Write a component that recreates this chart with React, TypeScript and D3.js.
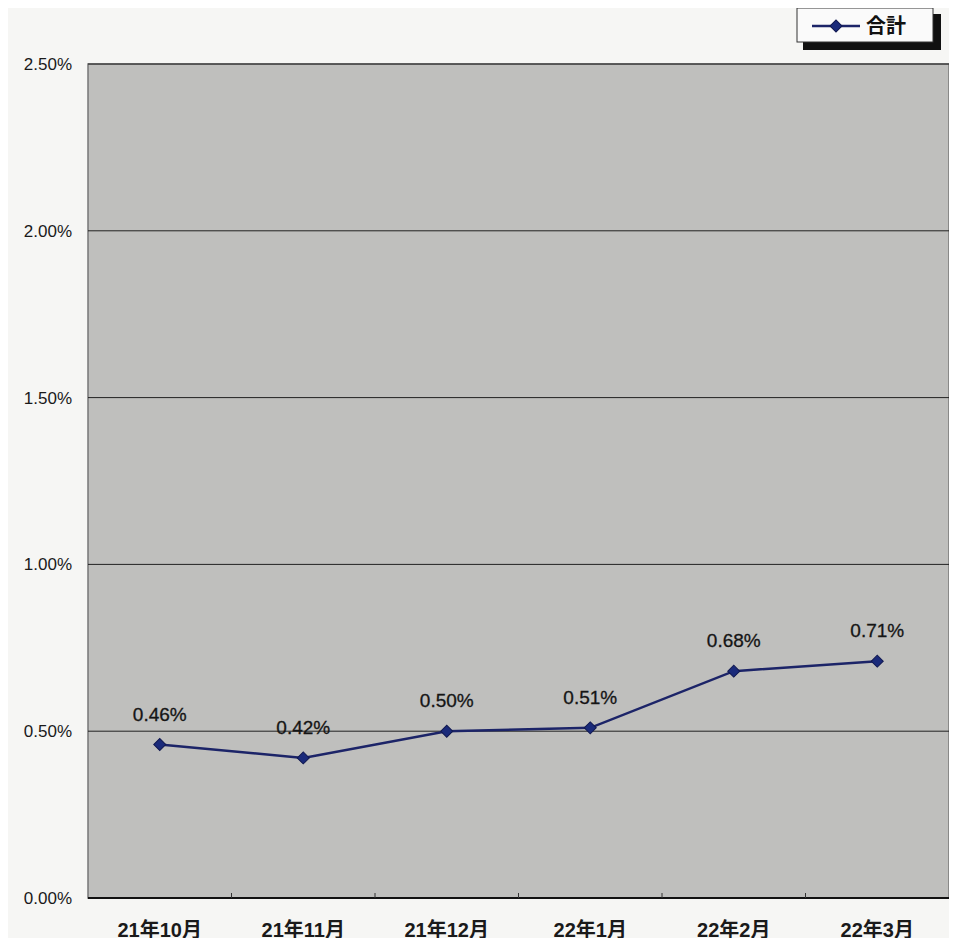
import React, { useEffect, useRef } from 'react';
import * as d3 from 'd3';

const categories = ['21年10月', '21年11月', '21年12月', '22年1月', '22年2月', '22年3月'];
const values = [0.0046, 0.0042, 0.005, 0.0051, 0.0068, 0.0071];
const yTicks = [0, 0.005, 0.01, 0.015, 0.02, 0.025];
const seriesName = '合計';

const W = 957;
const H = 946;
const M = { top: 64, right: 8, bottom: 48, left: 88 };

const App: React.FC = () => {
  const svgRef = useRef<SVGSVGElement>(null);

  useEffect(() => {
    if (!svgRef.current) return;
    const svg = d3.select(svgRef.current);
    svg.selectAll('*').remove();

    const font = '"Liberation Sans", Arial, "Noto Sans CJK JP", sans-serif';
    const x = d3.scaleBand<string>().domain(categories).range([M.left, W - M.right]);
    const y = d3.scaleLinear().domain([0, 0.025]).range([H - M.bottom, M.top]);

    svg.append('rect').attr('width', W).attr('height', H).attr('fill', '#f6f6f4');

    // plot area
    svg.append('rect')
      .attr('x', M.left).attr('y', M.top)
      .attr('width', W - M.left - M.right).attr('height', H - M.top - M.bottom)
      .attr('fill', '#bfbfbd')
      .attr('stroke', '#777').attr('stroke-width', 1.5);

    // gridlines
    svg.append('g').selectAll('line')
      .data(yTicks.filter(t => t > 0))
      .enter().append('line')
      .attr('x1', M.left).attr('x2', W - M.right)
      .attr('y1', d => y(d)).attr('y2', d => y(d))
      .attr('stroke', '#222').attr('stroke-width', 1);

    // y labels
    svg.append('g').selectAll('text')
      .data(yTicks)
      .enter().append('text')
      .attr('x', 72).attr('y', d => y(d)).attr('dy', '0.35em')
      .attr('text-anchor', 'end')
      .attr('font-family', font).attr('font-size', 17).attr('fill', '#1a1a1a')
      .text(d => d3.format('.2%')(d));

    // x axis line and ticks
    svg.append('line')
      .attr('x1', M.left).attr('x2', W - M.right)
      .attr('y1', y(0)).attr('y2', y(0))
      .attr('stroke', '#111').attr('stroke-width', 2);
    svg.append('g').selectAll('line')
      .data(categories.slice(1))
      .enter().append('line')
      .attr('x1', d => x(d)!).attr('x2', d => x(d)!)
      .attr('y1', y(0)).attr('y2', y(0) - 5)
      .attr('stroke', '#333');

    svg.append('g').selectAll('text')
      .data(categories)
      .enter().append('text')
      .attr('x', d => x(d)! + x.bandwidth() / 2).attr('y', y(0) + 39)
      .attr('text-anchor', 'middle')
      .attr('font-family', font).attr('font-size', 20).attr('font-weight', 'bold').attr('fill', '#1a1a1a')
      .text(d => d);

    const cx = (i: number) => x(categories[i])! + x.bandwidth() / 2;
    const line = d3.line<number>().x((_, i) => cx(i)).y(d => y(d));
    svg.append('path')
      .attr('d', line(values))
      .attr('fill', 'none').attr('stroke', '#1c2468').attr('stroke-width', 2.5);

    const diamond = d3.symbol().type(d3.symbolSquare).size(72);
    svg.append('g').selectAll('path')
      .data(values)
      .enter().append('path')
      .attr('d', diamond)
      .attr('transform', (d, i) => `translate(${cx(i)},${y(d)}) rotate(45)`)
      .attr('fill', '#1a2a7a').attr('stroke', '#101850');

    svg.append('g').selectAll('text')
      .data(values)
      .enter().append('text')
      .attr('x', (_, i) => cx(i)).attr('y', d => y(d) - 24)
      .attr('text-anchor', 'middle')
      .attr('font-family', font).attr('font-size', 19).attr('fill', '#151515')
      .attr('stroke', '#151515').attr('stroke-width', 0.3)
      .text(d => d3.format('.2%')(d));

    // legend
    const lg = svg.append('g').attr('transform', 'translate(797,8)');
    lg.append('rect').attr('x', 6).attr('y', 6).attr('width', 138).attr('height', 36).attr('fill', '#111');
    lg.append('rect').attr('x', 0).attr('y', 0).attr('width', 136).attr('height', 34)
      .attr('fill', '#fafafa').attr('stroke', '#333').attr('stroke-width', 1);
    lg.append('line').attr('x1', 15).attr('x2', 63).attr('y1', 18).attr('y2', 18)
      .attr('stroke', '#1c2468').attr('stroke-width', 2.5);
    lg.append('path').attr('d', diamond).attr('transform', 'translate(39,18) rotate(45)')
      .attr('fill', '#1a2a7a').attr('stroke', '#101850');
    lg.append('text').attr('x', 69).attr('y', 18).attr('dy', '0.36em')
      .attr('font-family', font).attr('font-size', 20).attr('font-weight', 'bold').attr('fill', '#111')
      .text(seriesName);
  }, []);

  return (
    <svg ref={svgRef} width={W} height={H} style={{ display: 'block', margin: '-8px' }} />
  );
};

export default App;
